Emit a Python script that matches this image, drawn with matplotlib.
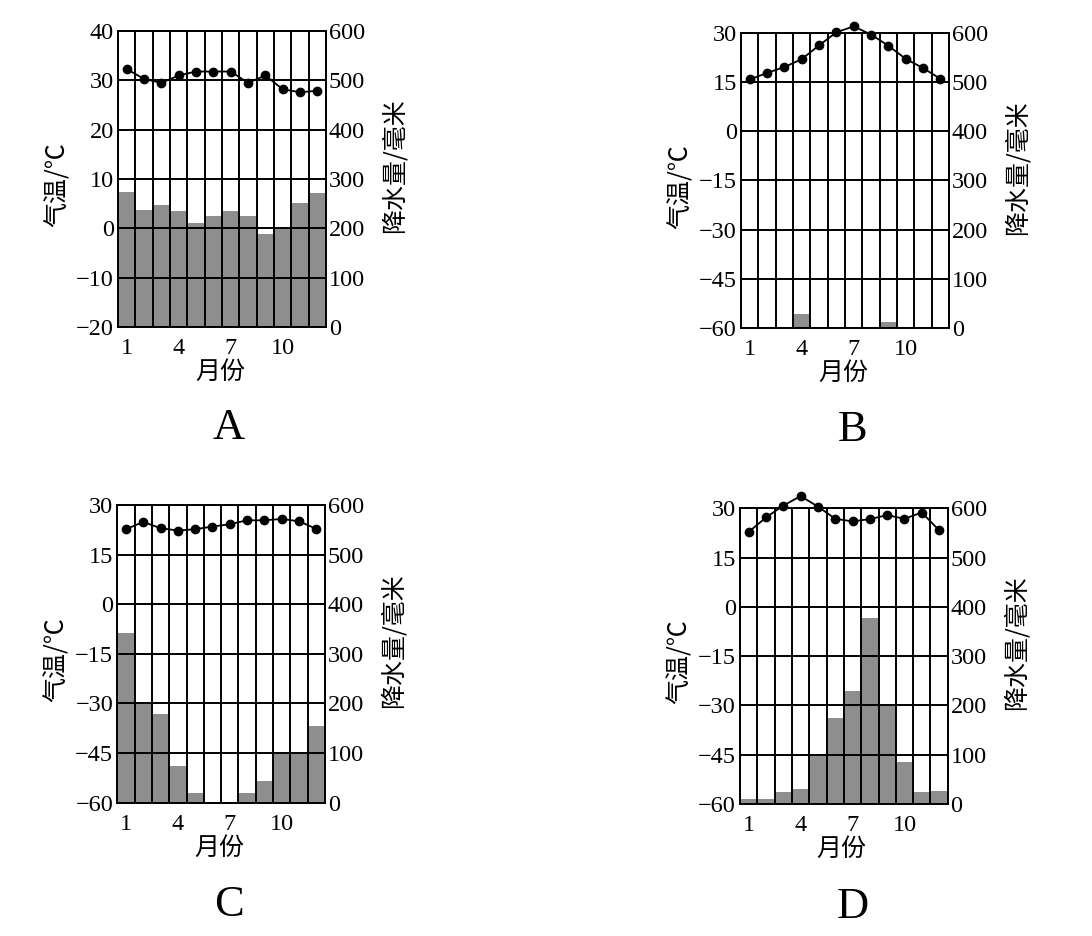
"""
Four climate charts (A-D): monthly temperature line over precipitation bars.
"""

import matplotlib
matplotlib.use("Agg")
import matplotlib.pyplot as plt

SERIF = ["Liberation Serif", "Noto Sans CJK SC", "DejaVu Sans"]
CJK = ["Noto Sans CJK SC", "DejaVu Sans"]

MONTHS = list(range(1, 13))
MONTH_TICKS = [1, 4, 7, 10]

# temperature (deg C) per month
TEMP_A = [32.3, 30.3, 29.5, 31.0, 31.8, 31.8, 31.8, 29.5, 31.0, 28.2, 27.6, 27.9]
TEMP_B = [15.8, 17.8, 19.6, 22.0, 26.2, 30.2, 32.0, 29.5, 26.1, 22.1, 19.3, 16.0]
TEMP_C = [22.7, 24.9, 23.0, 22.3, 22.7, 23.5, 24.2, 25.4, 25.4, 25.8, 25.1, 22.8]
TEMP_D = [22.8, 27.2, 30.8, 33.7, 30.5, 26.8, 26.0, 26.7, 27.9, 26.8, 28.7, 23.3]

# precipitation (mm) per month
RAIN_A = [274, 238, 247, 236, 211, 226, 236, 226, 189, 200, 252, 272]
RAIN_B = [0, 0, 0, 29, 0, 0, 0, 0, 13, 0, 0, 0]
RAIN_C = [343, 200, 178, 74, 20, 0, 0, 19, 44, 99, 99, 155]
RAIN_D = [11, 11, 24, 30, 98, 175, 230, 378, 198, 85, 24, 26]

# axis ticks
TEMP_TICKS_A = [-20, -10, 0, 10, 20, 30, 40]
TEMP_TICKS_BCD = [-60, -45, -30, -15, 0, 15, 30]
RAIN_TICKS = [0, 100, 200, 300, 400, 500, 600]

PANELS = [
    ("A", TEMP_A, RAIN_A, TEMP_TICKS_A, [0.1081, 0.6506, 0.1905, 0.3162], (229, 428)),
    ("B", TEMP_B, RAIN_B, TEMP_TICKS_BCD, [0.6786, 0.6496, 0.1905, 0.3152], (853, 430)),
    ("C", TEMP_C, RAIN_C, TEMP_TICKS_BCD, [0.1074, 0.1424, 0.1902, 0.3180], (229, 905)),
    ("D", TEMP_D, RAIN_D, TEMP_TICKS_BCD, [0.6777, 0.1410, 0.1902, 0.3160], (853, 907)),
]

LW = 1.4
BAR_COLOR = "#8e8e8e"
TICK_SIZE = 17.5
LABEL_SIZE = 18


def fmt(v):
    return str(v).replace("-", "\u2212")


def draw_panel(fig, letter, temps, rain, temp_ticks, rect, letter_xy):
    ax = fig.add_axes(rect)  # precipitation axis (bars + grid)
    ax.bar(MONTHS, rain, width=1.0, color=BAR_COLOR, edgecolor="none", zorder=1)
    ax.set_xlim(0.5, 12.5)
    ax.set_ylim(0, 600)

    ax.set_xticks(MONTH_TICKS)
    ax.set_xticklabels([str(m) for m in MONTH_TICKS], family=SERIF, fontsize=TICK_SIZE)
    ax.set_xticks([m + 0.5 for m in range(0, 13)], minor=True)
    ax.set_yticks(RAIN_TICKS)
    ax.set_yticklabels([str(v) for v in RAIN_TICKS], family=SERIF, fontsize=TICK_SIZE)

    ax.set_axisbelow(False)
    ax.grid(which="minor", axis="x", color="black", linewidth=LW)
    ax.grid(which="major", axis="y", color="black", linewidth=LW)
    for sp in ax.spines.values():
        sp.set_linewidth(LW)
        sp.set_color("black")

    ax.set_xlabel("月份", family=CJK, fontsize=LABEL_SIZE)
    ax.xaxis.label.set_va("center")
    ax.xaxis.set_label_coords(0.49, -0.152)

    axt = ax.twinx()  # temperature axis (line)
    axt.plot(MONTHS, temps, color="black", linewidth=1.3, marker="o",
             markersize=6, clip_on=False, zorder=5)
    axt.set_ylim(temp_ticks[0], temp_ticks[-1])
    axt.set_yticks(temp_ticks)
    axt.set_yticklabels([fmt(v) for v in temp_ticks], family=SERIF, fontsize=TICK_SIZE)
    axt.yaxis.tick_left()
    axt.yaxis.set_label_position("left")
    axt.tick_params(axis="y", length=0, pad=3)
    for sp in axt.spines.values():
        sp.set_visible(False)

    # twinx moved the precipitation ticks to the left, put them back right
    ax.yaxis.tick_right()
    ax.yaxis.set_label_position("right")
    ax.tick_params(axis="both", which="both", length=0)
    ax.tick_params(axis="x", pad=8)
    ax.tick_params(axis="y", pad=2)

    ax.set_ylabel("降水量/毫米", family=CJK, fontsize=LABEL_SIZE, rotation=90)
    ax.yaxis.label.set_va("center")
    ax.yaxis.label.set_ha("center")
    ax.yaxis.set_label_coords(1.33, 0.545)

    axt.set_ylabel("气温/℃", family=CJK, fontsize=LABEL_SIZE, rotation=90)
    axt.yaxis.label.set_va("center")
    axt.yaxis.label.set_ha("center")
    axt.yaxis.set_label_coords(-0.29, 0.48)

    fx = letter_xy[0] / 1092
    fy = 1 - letter_xy[1] / 936
    fig.text(fx, fy, letter, family=SERIF, fontsize=32, ha="center", va="center")


def main():
    fig = plt.figure(figsize=(10.92, 9.36), dpi=100)
    for letter, temps, rain, ticks, rect, lxy in PANELS:
        draw_panel(fig, letter, temps, rain, ticks, rect, lxy)
    fig.savefig("out.png", dpi=100, facecolor="white")
    plt.close(fig)


if __name__ == "__main__":
    main()
